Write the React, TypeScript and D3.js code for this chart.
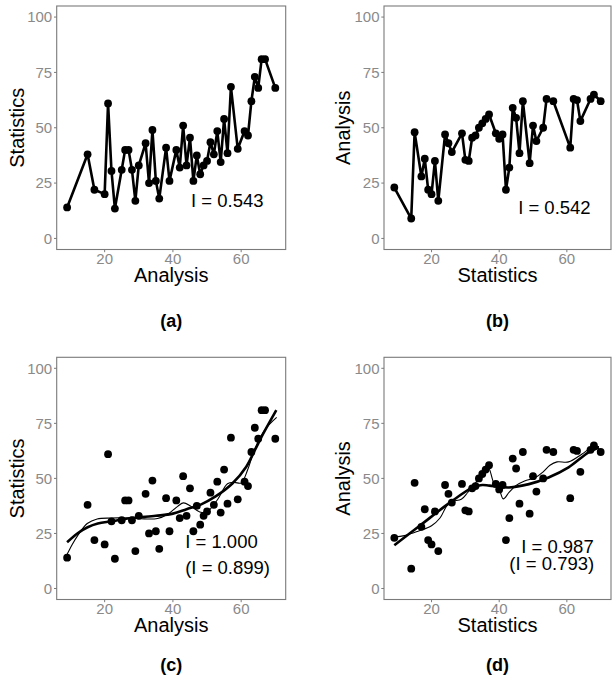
import React from "react";
import * as d3 from "d3";

// ---------- data ----------
// Panel (a)/(c): Analysis (x) vs Statistics (y)
const analysisA = [9,15,17,20,21,22,23,25,26,27,28,29,30,32,33,34,35,36,38,39,41,42,43,44,45,46,47,48,49,50,51,52,53,54,55,56,57,59,61,62,63,64,65,66,67,70];
const statisticsA = [14,38,22,20,61,30.5,13.5,31,40,40,31,17,33,43,25,49,26,18,41,26,40,32,51,33,45.5,26,37.5,29,33,35,43.5,38,48.5,34.5,54,38.5,68.5,40.5,48.5,46.5,62,73,68,81,81,68];

// Panel (b)/(d): Statistics (x) vs Analysis (y)
const statisticsB = [9,14,15,17,18,19,20,21,22,24,25,26,29,30,31,32,33,34,35,36,37,39,40,41,42,43,44,45,46,47,49,50,51,53,54,56,61,62,63,64,67,68,70];
const analysisB = [23,9,48,28,36,22,20,35,17,47,43,39,47.5,35.5,35,45.5,46.5,50,52,54,56,47.5,45,47,22,32,59,54.5,38.5,62,34,51,44,50,63,62,41,63,62.5,53,63,65,62];

// Fitted curves
const thickCx = [9,12,15,18,22,28,35,40,44,48,52.5,57.5,61.5,64,66.5,70.3];
const thickCy = [21,25,27.8,29.5,30.5,32,33,34,36,38,41.8,47.8,55.3,62.8,70.4,81];
const thinCx = [9,10.5,12,14.9,17.8,21.8,26.7,31.6,35.5,38.4,41.4,43.1,45.3,48.2,50.2,53.1,56,58,60,61.9,63.9,66.9,70.4];
const thinCy = [15.5,20,23.8,29.5,31.6,32,32,31.6,31.8,33.6,37.3,38.9,37.3,34.6,35.1,40.4,47.6,48.2,47.9,53.9,63,72,77.7];

// Fitted curves
const thickDx = [9,16.6,25.6,32.2,35,37.1,42.9,48.8,54.6,60.5,66.3,69.5];
const thickDy = [19.6,28.6,39.2,45.9,47,46.7,45.9,47.4,50.4,55,61.7,64];
const thinDx = [9,12,16,20,22.5,24.5,26,28.8,30.7,32.7,34.6,36.6,38.5,40,41.2,42.9,44.9,47.5,50.7,53,55,57.1,60.5,64.4,67.3,69.5];
const thinDy = [23.4,24,26,28.5,32,37.5,39.5,40.5,43.6,47.4,51.1,55.5,47.5,45,40.7,43.6,46.7,48.8,50.4,53,56,57.5,57.5,61,64,64.5];

const yTicks = [0, 25, 50, 75, 100];
const xTicks = [20, 40, 60];
const captions = ["(a)", "(b)", "(c)", "(d)"];
const labelsTop = ["I = 0.543", "I = 0.542"];
const labelsBottom = [["I = 1.000", "(I = 0.899)"], ["I = 0.987", "(I = 0.793)"]];

const FONT = "'Liberation Sans', Arial, Helvetica, sans-serif";
const GREY_TXT = "#8a8a8a";
const BORDER = "#7a7a7a";

type Curve = { x: number[]; y: number[]; w: number };
type Ann = { text: string; x: number; y: number };

function Panel(props: {
  left: number; right: number; top: number; bottom: number;
  xs: number[]; ys: number[]; connect: boolean;
  curves: Curve[]; xTitle: string; yTitle: string; caption: string;
  yTitleX: number; captionY: number; anns: Ann[];
}) {
  const { left, right, top, bottom, xs, ys, connect, curves } = props;
  const x = d3.scaleLinear().domain([5.95, 73.05]).range([left, right]);
  const y = d3.scaleLinear().domain([-5, 105]).range([bottom, top]);
  const pts = xs.map((v, i) => [v, ys[i]] as [number, number]);
  const line = d3.line<[number, number]>().x(d => x(d[0])).y(d => y(d[1]));
  const smooth = d3.line<[number, number]>().x(d => x(d[0])).y(d => y(d[1])).curve(d3.curveCatmullRom.alpha(0.5));
  const cx = (left + right) / 2;
  const cy = (top + bottom) / 2;
  return (
    <g>
      <rect x={left} y={top} width={right - left} height={bottom - top} fill="white" stroke={BORDER} strokeWidth={1.1} />
      {yTicks.map(t => (
        <g key={"y" + t}>
          <line x1={left - 2.7} x2={left} y1={y(t)} y2={y(t)} stroke={BORDER} strokeWidth={1} />
          <text x={left - 4.5} y={y(t)} dy="0.35em" textAnchor="end" fontSize={15} fill={GREY_TXT} fontFamily={FONT}>{t}</text>
        </g>
      ))}
      {xTicks.map(t => (
        <g key={"x" + t}>
          <line x1={x(t)} x2={x(t)} y1={bottom} y2={bottom + 2.7} stroke={BORDER} strokeWidth={1} />
          <text x={x(t)} y={bottom + 14.5} textAnchor="middle" fontSize={15} fill={GREY_TXT} fontFamily={FONT}>{t}</text>
        </g>
      ))}
      {connect && <path d={line(pts) || ""} fill="none" stroke="black" strokeWidth={2.6} strokeLinejoin="round" />}
      {pts.map((p, i) => (
        <circle key={i} cx={x(p[0])} cy={y(p[1])} r={3.9} fill="black" />
      ))}
      {curves.map((c, i) => (
        <path key={"c" + i} d={smooth(c.x.map((v, j) => [v, c.y[j]] as [number, number])) || ""} fill="none" stroke="black" strokeWidth={c.w} />
      ))}
      {props.anns.map((a, i) => (
        <text key={"a" + i} x={x(a.x)} y={y(a.y)} fontSize={18.5} fill="black" fontFamily={FONT}>{a.text}</text>
      ))}
      <text x={cx} y={bottom + 32} textAnchor="middle" fontSize={20} fill="black" fontFamily={FONT}>{props.xTitle}</text>
      <text transform={`translate(${props.yTitleX},${cy}) rotate(-90)`} textAnchor="middle" fontSize={20} fill="black" fontFamily={FONT}>{props.yTitle}</text>
      <text x={cx} y={props.captionY} textAnchor="middle" fontSize={18} fontWeight="bold" fill="black" fontFamily={FONT}>{props.caption}</text>
    </g>
  );
}

export default function App() {
  return (
    <svg width={615} height={678} style={{ position: "absolute", left: 0, top: 0, background: "white" }}>
      <rect width={615} height={678} fill="white" />
      <Panel left={56.7} right={285.7} top={6} bottom={249.5} xs={analysisA} ys={statisticsA} connect curves={[]}
        xTitle="Analysis" yTitle="Statistics" caption={captions[0]} yTitleX={24} captionY={327}
        anns={[{ text: labelsTop[0], x: 45.3, y: 14.4 }]} />
      <Panel left={384} right={611} top={6} bottom={249.5} xs={statisticsB} ys={analysisB} connect curves={[]}
        xTitle="Statistics" yTitle="Analysis" caption={captions[1]} yTitleX={350} captionY={327}
        anns={[{ text: labelsTop[1], x: 45.6, y: 10.9 }]} />
      <Panel left={56.7} right={285.7} top={357.3} bottom={599.5} xs={analysisA} ys={statisticsA} connect={false}
        curves={[{ x: thickCx, y: thickCy, w: 2.6 }, { x: thinCx, y: thinCy, w: 1.1 }]}
        xTitle="Analysis" yTitle="Statistics" caption={captions[2]} yTitleX={24} captionY={671}
        anns={[{ text: labelsBottom[0][0], x: 43.6, y: 18.6 }, { text: labelsBottom[0][1], x: 43.6, y: 6.8 }]} />
      <Panel left={384} right={611} top={357.3} bottom={599.5} xs={statisticsB} ys={analysisB} connect={false}
        curves={[{ x: thickDx, y: thickDy, w: 2.6 }, { x: thinDx, y: thinDy, w: 1.1 }]}
        xTitle="Statistics" yTitle="Analysis" caption={captions[3]} yTitleX={350} captionY={671}
        anns={[{ text: labelsBottom[1][0], x: 46.5, y: 16 }, { text: labelsBottom[1][1], x: 43, y: 8.5 }]} />
    </svg>
  );
}
